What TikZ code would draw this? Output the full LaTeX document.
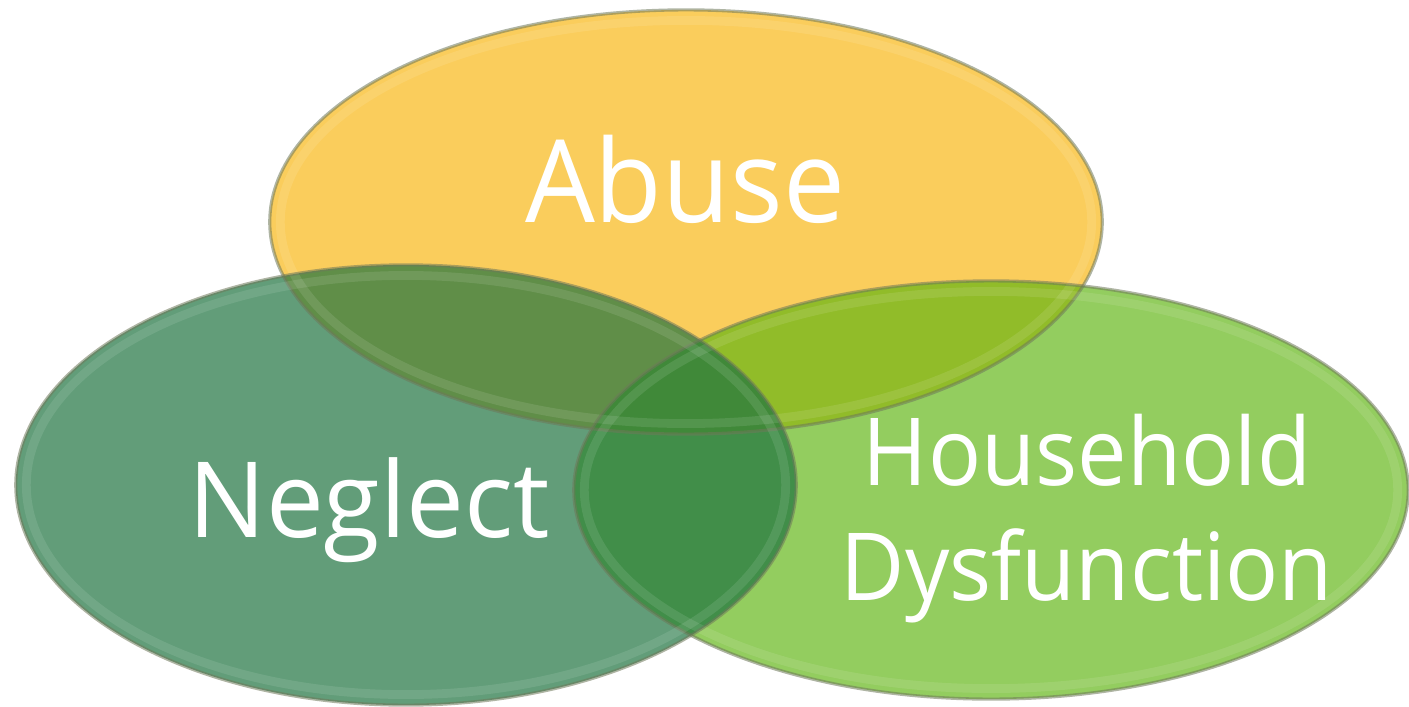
\documentclass[tikz,border=0pt]{standalone}
\usepackage{fontspec}
\setmainfont{Open Sans}
\usetikzlibrary{shapes.geometric}

\definecolor{abusefill}{RGB}{250,205,92}
\definecolor{neglectfill}{RGB}{31,116,64}
\definecolor{housefill}{RGB}{94,180,16}
\definecolor{rimdark}{RGB}{110,120,90}

\tikzset{
  blob/.style={ellipse, inner sep=0pt, outer sep=0pt},
  rim/.style={draw=rimdark, draw opacity=0.55, line width=0.9pt},
  glow/.style={draw=white, draw opacity=0.10, line width=2.5pt},
  label/.style={text=white, anchor=base, inner sep=0pt, align=center},
}

\begin{document}
\begin{tikzpicture}[x=0.01cm, y=-0.01cm]
  \useasboundingbox (0,0) rectangle (1409,706);

  % the three circles of adverse childhood experiences
  \node[blob, fill=abusefill, minimum width=8.32cm, minimum height=4.24cm]
    (abuse) at (686,222) {};
  \node[blob, fill=housefill, fill opacity=0.67, minimum width=8.34cm, minimum height=4.18cm]
    (house) at (991,490) {};
  \node[blob, fill=neglectfill, fill opacity=0.70, minimum width=7.80cm, minimum height=4.40cm]
    (neglect) at (406,485) {};

  % soft inner highlight and thin outline on every ellipse
  \foreach \e/\w/\h/\px/\py in {abuse/8.32/4.24/686/222, house/8.34/4.18/991/490, neglect/7.80/4.40/406/485}{
    \node[blob, glow, minimum width=\w cm-6pt, minimum height=\h cm-6pt] (\e-glow) at (\px,\py) {};
    \node[blob, rim, minimum width=\w cm, minimum height=\h cm] (\e-rim) at (\px,\py) {};
  }

  % labels
  \node[label, font=\fontsize{32.7}{38}\selectfont\addfontfeature{FakeStretch=0.96}] (tabuse) at (685,222) {Abuse};
  \node[label, font=\fontsize{29.9}{36}\selectfont\addfontfeature{FakeStretch=0.98}] (tneglect) at (369,537) {Neglect};
  \node[label, font=\fontsize{26.7}{32.7}\selectfont\addfontfeature{FakeStretch=0.94}] (thouse) at (1087,600) {Household\\Dysfunction};
\end{tikzpicture}
\end{document}
